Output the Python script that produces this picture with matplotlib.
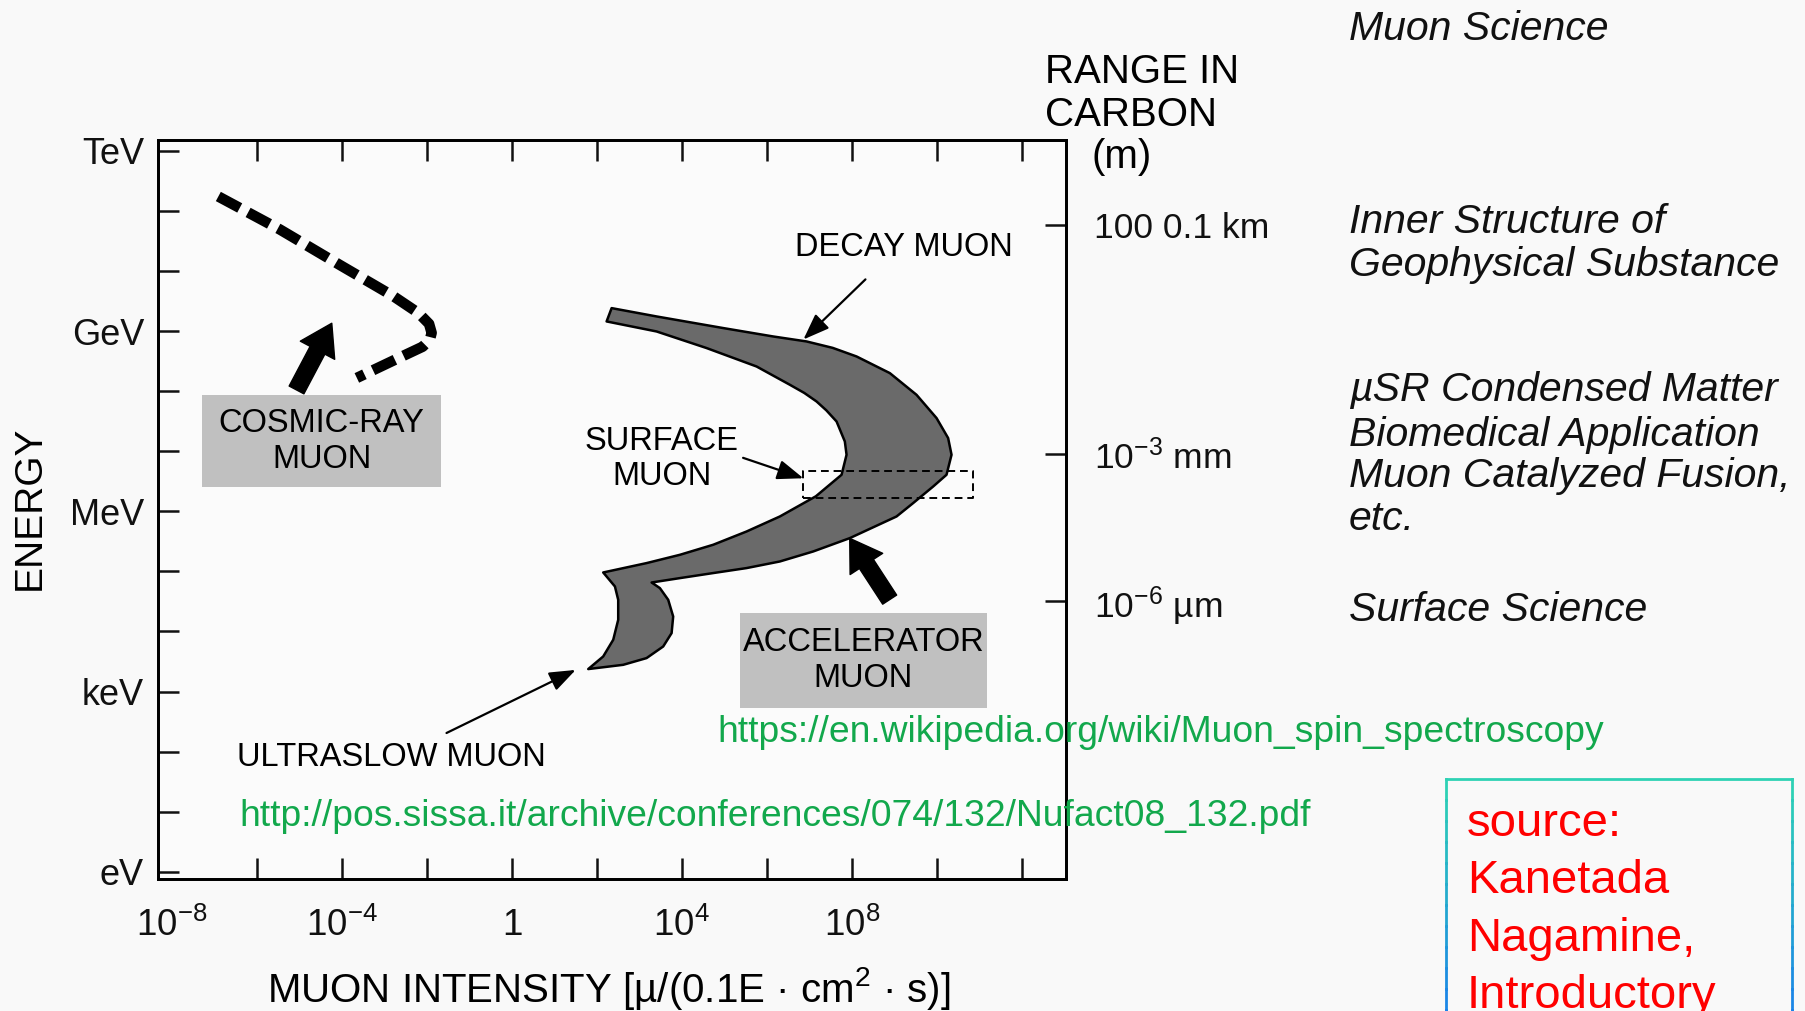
import numpy as np
import matplotlib
matplotlib.use('Agg')
import matplotlib.pyplot as plt
from matplotlib.ticker import FixedLocator, NullFormatter
from matplotlib.lines import Line2D

plt.rcParams['font.family'] = ['Liberation Sans', 'DejaVu Sans']
plt.rcParams['mathtext.fontset'] = 'custom'
plt.rcParams['mathtext.rm'] = 'Liberation Sans'
plt.rcParams['mathtext.it'] = 'Liberation Sans:italic'
plt.rcParams['mathtext.bf'] = 'Liberation Sans:bold'

# ---------------- data (log10 values) ----------------
energy_tick_exp = [0, 3, 6, 9, 12]
energy_tick_labels = ['eV', 'keV', 'MeV', 'GeV', 'TeV']
energy_minor_exp = [1, 2, 4, 5, 7, 8, 10, 11]

intensity_tick_exp = [-8, -4, 0, 4, 8]
intensity_tick_labels = [r'$10^{-8}$', r'$10^{-4}$', r'$1$', r'$10^{4}$', r'$10^{8}$']
intensity_minor_exp = [-6, -2, 2, 6, 10, 12]

range_tick_energy_exp = [10.76, 6.96, 4.51]
range_tick_labels = ['100 0.1 km', r'$10^{-3}$ mm', r'$10^{-6}$ µm']

# cosmic-ray muon (dashed curve)
cosmic_log_i = [-6.91, -5.46, -4.05, -2.79, -2.20, -1.95, -1.89, -1.93, -2.10, -2.64, -3.65]
cosmic_log_e = [11.24, 10.69, 10.10, 9.58, 9.30, 9.12, 8.97, 8.86, 8.74, 8.56, 8.22]

# decay / surface / ultraslow muon band outline
decay_log_i = [2.346, 3.405, 4.972, 6.148, 6.934, 7.55, 8.111, 8.894, 9.522, 9.993, 10.266,
               10.346, 10.228, 9.914, 9.443, 9.052, 7.953, 7.089, 6.306, 5.522, 4.736,
               3.953, 3.287,
               3.482, 3.678, 3.795, 3.758, 3.560, 3.169, 2.619, 1.795,
               2.148, 2.384, 2.501, 2.501, 2.424, 2.148,
               3.169, 3.953, 4.736, 5.522, 6.306, 7.153, 7.758, 7.875, 7.835, 7.640,
               7.40, 7.169, 6.88, 6.541, 5.758, 4.581, 3.405, 2.228]
decay_log_e = [9.382, 9.243, 9.050, 8.910, 8.827, 8.72, 8.577, 8.300, 7.939, 7.552, 7.219,
               6.941, 6.608, 6.413, 6.137, 5.914, 5.554, 5.331, 5.165, 5.055, 4.972,
               4.888, 4.815,
               4.722, 4.527, 4.249, 3.973, 3.750, 3.557, 3.445, 3.374,
               3.584, 3.862, 4.194, 4.527, 4.749, 4.982,
               5.138, 5.276, 5.443, 5.664, 5.914, 6.250, 6.608, 6.941, 7.162, 7.495,
               7.68, 7.828, 7.97, 8.106, 8.410, 8.717, 8.993, 9.160]

surface_box_log_i = [6.855, 10.855]
surface_box_log_e = [6.22, 6.663]

cosmic_box_log_i = [-7.29, -1.67]
cosmic_box_log_e = [6.41, 7.94]
accel_box_log_i = [5.37, 11.17]
accel_box_log_e = [2.73, 4.30]

xlim_exp = [-8.33, 13.04]
ylim_exp = [-0.12, 12.18]

right_texts = [
    ('Muon Science', 40),
    ('Inner Structure of', 233),
    ('Geophysical Substance', 276),
    ('µSR Condensed Matter', 401),
    ('Biomedical Application', 446),
    ('Muon Catalyzed Fusion,', 487),
    ('etc.', 530),
    ('Surface Science', 621),
]
source_lines = ['source:', 'Kanetada', 'Nagamine,', 'Introductory']

P = lambda v: np.power(10.0, np.asarray(v, dtype=float))

W, H = 1805, 1011
fig = plt.figure(figsize=(W / 100, H / 100), dpi=100, facecolor='#f9f9f9')
ax = fig.add_axes([158 / W, 1 - 879 / H, (1066 - 158) / W, (879 - 140) / H])
ax.set_facecolor('#fbfbfb')
ax.set_xscale('log')
ax.set_yscale('log')
ax.set_xlim(P(xlim_exp))
ax.set_ylim(P(ylim_exp))

for s in ax.spines.values():
    s.set_linewidth(2.0)

ax.xaxis.set_major_locator(FixedLocator(P(intensity_tick_exp)))
ax.xaxis.set_minor_locator(FixedLocator(P(intensity_minor_exp)))
ax.set_xticklabels(intensity_tick_labels)
ax.xaxis.set_minor_formatter(NullFormatter())
ax.yaxis.set_major_locator(FixedLocator(P(energy_tick_exp)))
ax.yaxis.set_minor_locator(FixedLocator(P(energy_minor_exp)))
ax.set_yticklabels(energy_tick_labels)
ax.yaxis.set_minor_formatter(NullFormatter())

ax.tick_params(which='both', direction='in', length=15, width=1.8, top=True, right=False,
               colors='#111111')
ax.tick_params(axis='x', which='major', labelsize=26.5, pad=21)
ax.tick_params(axis='y', which='major', labelsize=26, pad=10)
t0 = ax.xaxis.get_major_ticks()[0]
t0.tick1line.set_visible(False)
t0.tick2line.set_visible(False)

ax2 = ax.twinx()
ax2.set_yscale('log')
ax2.set_ylim(P(ylim_exp))
ax2.yaxis.set_major_locator(FixedLocator(P(range_tick_energy_exp)))
ax2.set_yticklabels(range_tick_labels)
ax2.yaxis.set_minor_locator(FixedLocator([]))
ax2.tick_params(axis='y', direction='in', length=15, width=1.8, labelsize=25.5, pad=20,
                colors='#111111')
for s in ax2.spines.values():
    s.set_linewidth(2.0)

# gray label boxes
ax.fill([P(cosmic_box_log_i[0]), P(cosmic_box_log_i[1]), P(cosmic_box_log_i[1]), P(cosmic_box_log_i[0])],
        [P(cosmic_box_log_e[0]), P(cosmic_box_log_e[0]), P(cosmic_box_log_e[1]), P(cosmic_box_log_e[1])],
        color='#c0c0c0', lw=0, zorder=1)
ax.fill([P(accel_box_log_i[0]), P(accel_box_log_i[1]), P(accel_box_log_i[1]), P(accel_box_log_i[0])],
        [P(accel_box_log_e[0]), P(accel_box_log_e[0]), P(accel_box_log_e[1]), P(accel_box_log_e[1])],
        color='#c0c0c0', lw=0, zorder=1)

# decay muon band
ax.fill(P(decay_log_i), P(decay_log_e), facecolor='#6a6a6a', edgecolor='black', lw=1.8,
        joinstyle='round', zorder=2)

# cosmic-ray dashed curve
ax.plot(P(cosmic_log_i), P(cosmic_log_e), color='black', lw=7.6,
        linestyle=(0, (2.3, 0.9)), dash_capstyle='butt', dash_joinstyle='round', zorder=3)

# surface muon dashed box
sx, sy = P(surface_box_log_i), P(surface_box_log_e)
ax.plot([sx[0], sx[1], sx[1], sx[0], sx[0]], [sy[0], sy[0], sy[1], sy[1], sy[0]],
        color='black', lw=1.4, linestyle=(0, (4, 2.5)), zorder=4)

# thick arrows
thick = dict(arrowstyle='simple,head_length=1.1,head_width=1.4,tail_width=0.6',
             mutation_scale=20, fc='black', ec='black', shrinkA=0, shrinkB=0)
ax.annotate('', xy=(P(-4.24), P(9.13)), xytext=(P(-5.07), P(8.02)), arrowprops=thick, zorder=5)
ax.annotate('', xy=(P(7.95), P(5.55)), xytext=(P(8.89), P(4.53)), arrowprops=thick, zorder=5)

# thin arrows
thin = dict(arrowstyle='-|>,head_length=0.8,head_width=0.3', mutation_scale=20,
            lw=1.6, color='black', shrinkA=0, shrinkB=0)
ax.annotate('', xy=(P(6.86), P(8.86)), xytext=(P(8.32), P(9.86)), arrowprops=thin, zorder=5)
ax.annotate('', xy=(P(6.86), P(6.55)), xytext=(P(5.44), P(6.89)), arrowprops=thin, zorder=5)
ax.annotate('', xy=(P(1.50), P(3.36)), xytext=(P(-1.54), P(2.31)), arrowprops=thin, zorder=5)

# in-plot labels
lab = dict(fontsize=23.5, ha='center', va='center', zorder=6, color='black')
ax.text(P(-4.475), P(7.46), 'COSMIC-RAY', **lab)
ax.text(P(-4.475), P(6.87), 'MUON', **lab)
ax.text(P(8.27), P(3.82), 'ACCELERATOR', **lab)
ax.text(P(8.27), P(3.21), 'MUON', **lab)
ax.text(P(9.22), P(10.39), 'DECAY MUON', **lab)
ax.text(P(3.53), P(7.17), 'SURFACE', **lab)
ax.text(P(3.53), P(6.58), 'MUON', **lab)
ax.text(P(-2.84), P(1.91), 'ULTRASLOW MUON', **lab)

# axis titles
fig.text(30 / W, 1 - 508 / H, 'ENERGY', rotation=90, fontsize=28, ha='center', va='center')
fig.text(609 / W, 1 - 988 / H, r'MUON INTENSITY [µ/(0.1E · cm$^2$ · s)]', fontsize=29,
         ha='center', va='center')
fig.text(1045 / W, 1 - 83 / H, 'RANGE IN', fontsize=29, ha='left', va='baseline')
fig.text(1045 / W, 1 - 126 / H, 'CARBON', fontsize=29, ha='left', va='baseline')
fig.text(1091 / W, 1 - 168 / H, '(m)', fontsize=29, ha='left', va='baseline')

for txt, yb in right_texts:
    fig.text(1349 / W, 1 - yb / H, txt, fontsize=29.5, style='italic', ha='left', va='baseline',
             color='#111111')

# green URLs
green = '#12a84c'
fig.text(717 / W, 1 - 742 / H, 'https://en.wikipedia.org/wiki/Muon_spin_spectroscopy',
         fontsize=26.8, color=green, ha='left', va='baseline')
fig.text(239 / W, 1 - 826 / H, 'http://pos.sissa.it/archive/conferences/074/132/Nufact08_132.pdf',
         fontsize=26.8, color=green, ha='left', va='baseline')

# source box
bx0, bx1, by_top = 1446 / W, 1792 / W, 1 - 779 / H
fig.add_artist(Line2D([bx0, bx1], [by_top, by_top], transform=fig.transFigure,
                      color='#2ed2b4', lw=2))
nseg = 12
ys = np.linspace(by_top, -0.02, nseg + 1)
c0 = np.array([0.18, 0.82, 0.71])
c1 = np.array([0.10, 0.50, 0.92])
for i in range(nseg):
    c = c0 + (c1 - c0) * i / (nseg - 1)
    for xx in (bx0, bx1):
        fig.add_artist(Line2D([xx, xx], [ys[i], ys[i + 1]], transform=fig.transFigure,
                              color=c, lw=2))
for i, line in enumerate(source_lines):
    fig.text(1467 / W, 1 - (836 + 57.3 * i) / H, line, fontsize=34, color='#ff0000',
             ha='left', va='baseline')

fig.savefig('out.png', dpi=100, facecolor=fig.get_facecolor())
